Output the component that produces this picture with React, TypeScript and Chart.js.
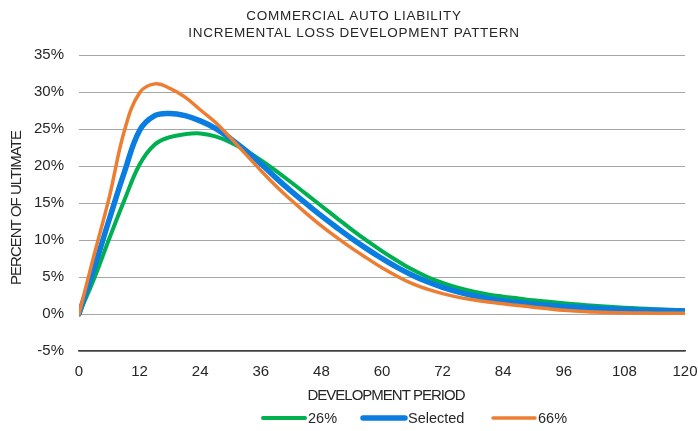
import React, { useEffect, useRef } from "react";
import { Chart, registerables } from "chart.js";

Chart.register(...registerables);

const TITLE_LINES = ["COMMERCIAL AUTO LIABILITY", "INCREMENTAL LOSS DEVELOPMENT PATTERN"];
const X_TITLE = "DEVELOPMENT PERIOD";
const Y_TITLE = "PERCENT OF ULTIMATE";

const months = [
  0, 3, 6, 9, 12, 15, 18, 21, 24, 27, 30, 33, 36, 39, 42, 45, 48, 51, 54, 57, 60,
  63, 66, 69, 72, 75, 78, 81, 84, 87, 90, 93, 96, 99, 102, 105, 108, 111, 114, 117, 120,
];

const series26 = [
  0, 4.8, 10.2, 15.4, 20.2, 22.9, 23.9, 24.3, 24.4, 24.0, 23.2, 22.1, 20.8, 19.35, 17.8, 16.2, 14.6, 13.0, 11.4, 9.9, 8.5,
  7.2, 6.0, 5.0, 4.2, 3.55, 3.05, 2.65, 2.35, 2.1, 1.85, 1.65, 1.45, 1.28, 1.12, 0.98, 0.86, 0.75, 0.65, 0.57, 0.5,
];

const seriesSelected = [
  0, 6.2, 12.8, 19.2, 24.8, 26.8, 27.1, 26.8, 26.1, 25.1, 23.7, 22.1, 20.3, 18.4, 16.6, 14.9, 13.25, 11.7, 10.2, 8.8, 7.5,
  6.3, 5.25, 4.35, 3.6, 3.0, 2.5, 2.1, 1.8, 1.55, 1.35, 1.17, 1.02, 0.9, 0.79, 0.7, 0.62, 0.55, 0.5, 0.45, 0.4,
];

const series66 = [
  0, 8.0, 15.8, 24.8, 29.9, 31.1, 30.5, 29.3, 27.6, 25.9, 23.8, 21.6, 19.4, 17.3, 15.4, 13.6, 11.9, 10.35, 8.9, 7.55, 6.25,
  5.1, 4.1, 3.35, 2.75, 2.28, 1.92, 1.62, 1.38, 1.15, 0.92, 0.7, 0.5, 0.36, 0.27, 0.2, 0.16, 0.13, 0.11, 0.1, 0.1,
];

const seriesNames = ["26%", "Selected", "66%"];
const seriesColors = ["#00B050", "#0A7EE0", "#ED7D31"];
const seriesWidths = [4, 5.5, 3.5];

const xTicks = [0, 12, 24, 36, 48, 60, 72, 84, 96, 108, 120];
const yTicks = [-5, 0, 5, 10, 15, 20, 25, 30, 35];

const FONT = "'Liberation Sans', Arial, sans-serif";
const TEXT = "#262626";

const textPlugin = {
  id: "customText",
  afterDraw(chart: any) {
    const { ctx } = chart;
    ctx.save();
    ctx.fillStyle = TEXT;
    ctx.textAlign = "center";
    ctx.textBaseline = "middle";
    ctx.font = `13.5px ${FONT}`;
    ctx.letterSpacing = "0.7px";
    ctx.fillText(TITLE_LINES[0], 354, 16);
    ctx.fillText(TITLE_LINES[1], 354, 33);
    ctx.font = `15px ${FONT}`;
    ctx.letterSpacing = "-1px";
    ctx.fillText(X_TITLE, 386, 396);
    ctx.save();
    ctx.translate(17, 208);
    ctx.rotate(-Math.PI / 2);
    ctx.fillText(Y_TITLE, 0, 0);
    ctx.restore();
    // legend
    ctx.letterSpacing = "0px";
    ctx.font = `14.5px ${FONT}`;
    const lineStarts = [263, 363, 493];
    const y = 418;
    ctx.textAlign = "left";
    for (let i = 0; i < seriesNames.length; i++) {
      ctx.strokeStyle = seriesColors[i];
      ctx.lineWidth = seriesWidths[i];
      ctx.lineCap = "round";
      ctx.beginPath();
      ctx.moveTo(lineStarts[i], y);
      ctx.lineTo(lineStarts[i] + 42, y);
      ctx.stroke();
      ctx.fillText(seriesNames[i], lineStarts[i] + 45, y + 1);
    }
    ctx.restore();
  },
};

export default function App() {
  const ref = useRef<HTMLCanvasElement | null>(null);
  useEffect(() => {
    document.body.style.margin = "0";
    const canvas = ref.current;
    if (!canvas) return;
    const data = [series26, seriesSelected, series66];
    const chart = new Chart(canvas, {
      type: "line",
      data: {
        datasets: data.map((arr, i) => ({
          label: seriesNames[i],
          data: months.map((m, j) => ({ x: m, y: arr[j] })),
          borderColor: seriesColors[i],
          backgroundColor: seriesColors[i],
          borderWidth: seriesWidths[i],
          pointRadius: 0,
          tension: 0.4,
          fill: false,
          order: 2 - i,
          borderCapStyle: "round",
        })),
      },
      options: {
        responsive: false,
        animation: false,
        layout: { padding: { left: 0, top: 55, right: 0, bottom: 0 } },
        plugins: {
          legend: { display: false },
          title: { display: false },
          tooltip: { enabled: false },
        },
        scales: {
          x: {
            type: "linear",
            min: 0,
            max: 120,
            afterBuildTicks: (s: any) => {
              s.ticks = xTicks.map((v) => ({ value: v }));
            },
            afterFit: (s: any) => {
              s.height = 80;
              s.paddingRight = 13;
              s.paddingLeft = 0;
            },
            ticks: {
              color: TEXT,
              font: { family: FONT, size: 15 },
              padding: 12,
              maxRotation: 0,
              autoSkip: false,
            },
            grid: { display: false, drawTicks: false },
            border: { display: true, color: "#404040", width: 1.5 },
          },
          y: {
            type: "linear",
            min: -5,
            max: 35,
            afterBuildTicks: (s: any) => {
              s.ticks = yTicks.map((v) => ({ value: v }));
            },
            afterFit: (s: any) => {
              s.width = 79;
              s.paddingTop = 0;
              s.paddingBottom = 0;
            },
            ticks: {
              color: TEXT,
              font: { family: FONT, size: 15 },
              padding: 15,
              callback: (v: any) => `${v}%`,
            },
            grid: { color: "#A6A6A6", lineWidth: 1, drawTicks: false },
            border: { display: false },
          },
        },
      },
      plugins: [textPlugin],
    });
    return () => chart.destroy();
  }, []);
  return (
    <div style={{ position: "absolute", left: 0, top: 0, width: 698, height: 431, background: "#fff" }}>
      <canvas ref={ref} width={698} height={431} style={{ display: "block" }} />
    </div>
  );
}
